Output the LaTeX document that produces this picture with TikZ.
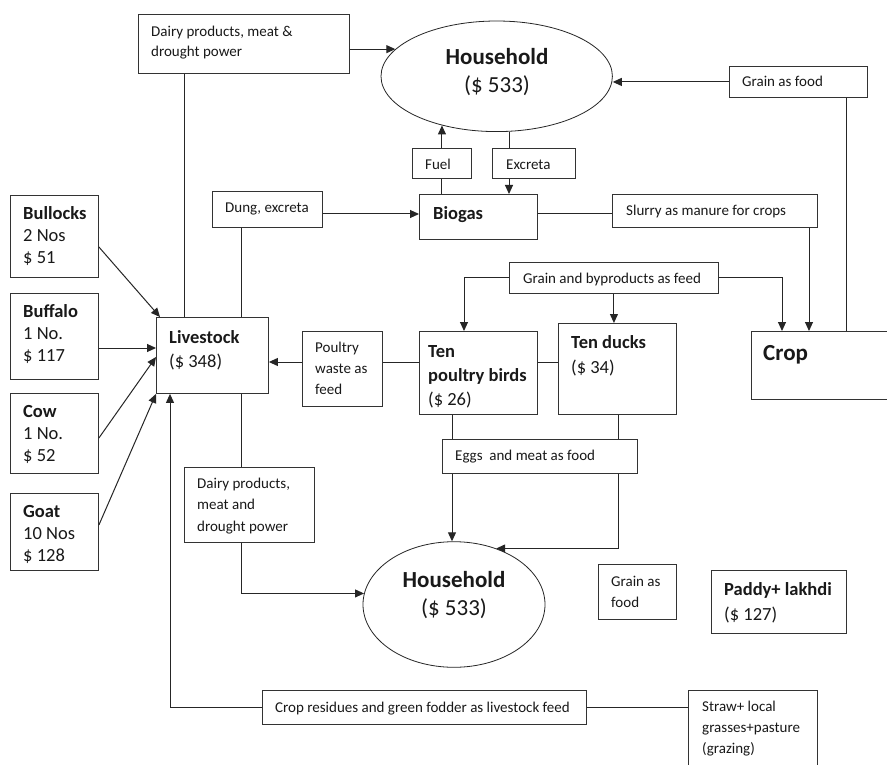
\documentclass[tikz,border=0pt]{standalone}
\usepackage{fontspec}
\setmainfont{Carlito}
\usetikzlibrary{shapes.geometric,arrows.meta}

% multi-line text block whose baseline is that of its first line
\newcommand{\lstack}[1]{\begin{tabular}[t]{@{}l@{}}#1\end{tabular}}
\newcommand{\cstack}[1]{\begin{tabular}[t]{@{}c@{}}#1\end{tabular}}

\tikzset{
  box/.style={draw=black!80, line width=0.9pt, rectangle, inner sep=0pt, anchor=north west},
  oval/.style={draw=black!85, line width=0.8pt, ellipse, inner sep=0pt},
  txt/.style={inner sep=0pt, anchor=base west, text=black!90},
  ctxt/.style={inner sep=0pt, anchor=base, text=black!90},
  sm/.style={font=\fontsize{15}{#1}\selectfont},
  md/.style={font=\fontsize{18.5}{#1}\selectfont},
  lg/.style={font=\fontsize{23}{#1}\selectfont},
  ln/.style={draw=black!85, line width=1pt},
  arr/.style={ln, -{Triangle[length=9pt,width=8pt]}},
}

\begin{document}
\begin{tikzpicture}[x=1pt,y=-1pt]
\useasboundingbox (0,0) rectangle (887,765);
\clip (0,0) rectangle (887,765);
\fill[white] (0,0) rectangle (887,765);

% ---------- boxes ----------
\node[box, minimum width=211pt, minimum height=59pt] (dairyA) at (138,14) {};
\node[oval, minimum width=231.4pt, minimum height=110.6pt] (hhA) at (496.7,76.3) {};
\node[box, minimum width=138pt, minimum height=31pt] (grainTop) at (729,66) {};
\node[box, minimum width=59pt, minimum height=30pt] (fuel) at (412,148) {};
\node[box, minimum width=83pt, minimum height=30pt] (excreta) at (492,148) {};
\node[box, minimum width=118pt, minimum height=45pt] (biogas) at (419,194) {};
\node[box, minimum width=110pt, minimum height=36pt] (dung) at (212,191) {};
\node[box, minimum width=205pt, minimum height=33pt] (slurry) at (612,194) {};
\node[box, minimum width=209pt, minimum height=31pt] (grainFeed) at (509,262) {};
\node[box, minimum width=159pt, minimum height=68pt] (crop) at (751,331) {};
\node[box, minimum width=118pt, minimum height=83pt] (poultry) at (419,331) {};
\node[box, minimum width=118pt, minimum height=91pt] (ducks) at (558,323) {};
\node[box, minimum width=80pt, minimum height=75pt] (pwaste) at (302,331) {};
\node[box, minimum width=112pt, minimum height=76pt] (livestock) at (156,317) {};
\node[box, minimum width=88pt, minimum height=82pt] (bullocks) at (10,195) {};
\node[box, minimum width=88pt, minimum height=86pt] (buffalo) at (10,293) {};
\node[box, minimum width=88pt, minimum height=80pt] (cow) at (10,393) {};
\node[box, minimum width=88pt, minimum height=77pt] (goat) at (10,493) {};
\node[box, minimum width=195pt, minimum height=34pt] (eggs) at (442,439) {};
\node[box, minimum width=130pt, minimum height=75pt] (dairyB) at (184,467) {};
\node[oval, minimum width=182pt, minimum height=125.6pt] (hhB) at (454,604.5) {};
\node[box, minimum width=78pt, minimum height=55pt] (grainBot) at (598,564) {};
\node[box, minimum width=135pt, minimum height=63pt] (paddy) at (711,570) {};
\node[box, minimum width=324pt, minimum height=34pt] (cropres) at (262,690) {};
\node[box, minimum width=129pt, minimum height=100pt] (straw) at (688,690) {};

% ---------- texts ----------
\node[txt, sm=20] (t-dairyA) at (151,37) {\lstack{Dairy products, meat \&\\drought power}};
\node[ctxt, lg=28] (t-hhA) at (497,65) {\cstack{\textbf{Household}\\(\$ 533)}};
\node[txt, sm=20] (t-grainTop) at (742,87) {Grain as food};
\node[txt, sm=20] (t-fuel) at (425,170) {Fuel};
\node[txt, sm=20] (t-excreta) at (506,170) {Excreta};
\node[txt, md=24] (t-biogas) at (433,220) {\textbf{Biogas}};
\node[txt, sm=20] (t-dung) at (225,212) {Dung, excreta};
\node[txt, sm=20] (t-slurry) at (626,215) {Slurry as manure for crops};
\node[txt, sm=20] (t-grainFeed) at (523,283) {Grain and byproducts as feed};
\node[txt, md=24] (t-poultry) at (428,357) {\lstack{\textbf{Ten}\\\textbf{poultry birds}\\(\$ 26)}};
\node[txt, md=25] (t-ducks) at (571,348) {\lstack{\textbf{Ten ducks}\\(\$ 34)}};
\node[txt, lg=28] (t-crop) at (763,360) {\textbf{Crop}};
\node[txt, sm=20] (t-eggs) at (455,460) {Eggs\ \ and meat as food};
\node[txt, md=24] (t-livestock) at (169,343) {\lstack{\textbf{Livestock}\\(\$ 348)}};
\node[txt, sm=21] (t-pwaste) at (315,352) {\lstack{Poultry\\waste as\\feed}};
\node[txt, md=22] (t-bullocks) at (23,219) {\lstack{\textbf{Bullocks}\\2 Nos\\\$ 51}};
\node[txt, md=22] (t-buffalo) at (23,317) {\lstack{\textbf{Buffalo}\\1 No.\\\$ 117}};
\node[txt, md=22] (t-cow) at (23,417) {\lstack{\textbf{Cow}\\1 No.\\\$ 52}};
\node[txt, md=22] (t-goat) at (23,517) {\lstack{\textbf{Goat}\\10 Nos\\\$ 128}};
\node[txt, sm=21.5] (t-dairyB) at (197,488) {\lstack{Dairy products,\\meat and\\drought power}};
\node[ctxt, lg=28] (t-hhB) at (454,587) {\cstack{\textbf{Household}\\(\$ 533)}};
\node[txt, sm=21] (t-grainBot) at (611,586) {\lstack{Grain as\\food}};
\node[txt, md=25] (t-paddy) at (724,595) {\lstack{\textbf{Paddy+ lakhdi}\\(\$ 127)}};
\node[txt, sm=20] (t-cropres) at (275,712) {Crop residues and green fodder as livestock feed};
\node[txt, sm=21] (t-straw) at (702,711) {\lstack{Straw+ local\\grasses+pasture\\(grazing)}};

% ---------- routing coordinates ----------
\coordinate (xg) at (846,0);
\coordinate (xe) at (509,0);
\coordinate (yd) at (0,214);
\coordinate (xl) at (241,0);
\coordinate (xs) at (809,0);
\coordinate (xp) at (464,0);
\coordinate (xc) at (782,0);
\coordinate (yp) at (0,362);
\coordinate (xd) at (184,0);
\coordinate (xr) at (170,0);
\coordinate (xq) at (452,0);
\coordinate (xk) at (618,0);
\coordinate (yb) at (0,247);
\coordinate (yf) at (0,348);
\coordinate (yc) at (0,438);
\coordinate (yc2) at (0,357);
\coordinate (yg) at (0,525);

% ---------- connectors ----------
% into the upper household
\draw[arr] (dairyA.east |- hhA.165) -- (hhA.165);
\draw[arr] (grainTop.west) -- (grainTop.west -| hhA.east);
\draw[ln] (grainTop.south -| xg) -- (crop.north -| xg);
\draw[ln] (biogas.north -| fuel.south) -- (fuel.south);
\draw[arr] (fuel.north) -- (fuel.north |- hhA.222);
\draw[ln] (hhA.south -| xe) -- (excreta.north -| xe);
\draw[arr] (excreta.south -| xe) -- (biogas.north -| xe);

% biogas and dung
\draw[arr] (dung.east |- yd) -- (biogas.west |- yd);
\draw[ln] (dung.south -| xl) -- (livestock.north -| xl);
\draw[ln] (biogas.east |- yd) -- (slurry.west |- yd);
\draw[arr] (slurry.south -| xs) -- (crop.north -| xs);

% grain and byproducts as feed
\draw[arr] (grainFeed.west) -| (poultry.north -| xp);
\draw[arr] (grainFeed.south) -- (grainFeed.south |- ducks.north);
\draw[arr] (grainFeed.east) -| (crop.north -| xc);

% poultry waste
\draw[ln] (poultry.east |- yp) -- (ducks.west |- yp);
\draw[ln] (poultry.west |- yp) -- (pwaste.east |- yp);
\draw[arr] (pwaste.west |- yp) -- (livestock.east |- yp);

% animals into livestock
\draw[arr] (bullocks.east |- yb) -- ([xshift=4pt]livestock.north west);
\draw[arr] (buffalo.east |- yf) -- (livestock.west |- yf);
\draw[arr] (cow.east |- yc) -- (livestock.west |- yc2);
\draw[arr] (goat.east |- yg) -- (livestock.south west);

% livestock products
\draw[ln] (dairyA.south -| xd) -- (livestock.north -| xd);
\draw[ln] (livestock.south -| xl) -- (dairyB.north -| xl);
\draw[arr] (dairyB.south -| xl) |- (hhB.173);

% crop residues back to livestock
\draw[arr] (cropres.west) -| (livestock.south -| xr);
\draw[ln] (cropres.east) -- (straw.west |- cropres.east);

% eggs and meat
\draw[ln] (poultry.south -| xq) -- (eggs.north -| xq);
\draw[arr] (eggs.south -| xq) -- (hhB.north -| xq);
\draw[ln] (ducks.south -| xk) -- (eggs.north -| xk);
\draw[arr] (eggs.south -| xk) |- (hhB.53);
\end{tikzpicture}
\end{document}
